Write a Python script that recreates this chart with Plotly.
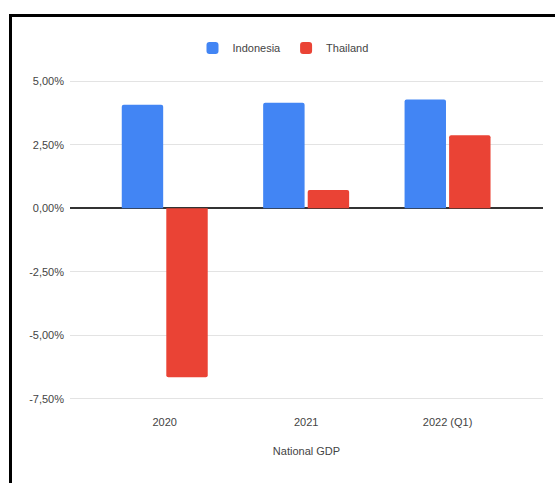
import plotly.graph_objects as go

categories = ["2020", "2021", "2022 (Q1)"]
indonesia = [4.08, 4.15, 4.28]
thailand = [-6.65, 0.72, 2.87]
series_names = ["Indonesia", "Thailand"]
colors = ["#4285F4", "#EA4335"]
y_ticks = [-7.5, -5.0, -2.5, 0.0, 2.5, 5.0]
y_ticktext = ["-7,50%", "-5,00%", "-2,50%", "0,00%", "2,50%", "5,00%"]

W, H = 555, 483
ML, MR, MT, MB = 70, 12, 80, 83
pw = W - ML - MR
ph = H - MT - MB

def px_x(p):
    return (p - ML) / pw

def px_y(p):
    return (H - MB - p) / ph

font = dict(family="Liberation Sans, Arial, sans-serif", size=11, color="#444444")

fig = go.Figure()
for name, vals, col in zip(series_names, [indonesia, thailand], colors):
    fig.add_trace(go.Bar(x=categories, y=vals, name=name,
                         marker=dict(color=col, line=dict(width=0), cornerradius=2)))

fig.update_layout(
    width=W, height=H,
    margin=dict(l=ML, r=MR, t=MT, b=MB),
    paper_bgcolor="white", plot_bgcolor="white",
    font=font,
    barmode="group", bargap=0.37, bargroupgap=0.07,
    showlegend=True,
    legend=dict(orientation="h", x=px_x(283), xanchor="center", y=px_y(48), yanchor="middle",
                font=font, itemwidth=30, traceorder="normal"),
    xaxis=dict(range=[-0.67, 2.675], showgrid=False, zeroline=False, showline=False,
               ticks="", tickfont=font, ticklabelstandoff=14,
               title=dict(text="National GDP", font=font, standoff=20)),
    yaxis=dict(range=[-7.55, 5.05], tickmode="array", tickvals=y_ticks, ticktext=y_ticktext,
               showgrid=True, gridcolor="#e3e3e3", gridwidth=1,
               zeroline=True, zerolinecolor="#333333", zerolinewidth=1.5,
               showline=False, ticks="", tickfont=font, ticklabelstandoff=5),
    shapes=[dict(type="rect", xref="paper", yref="paper",
                 x0=px_x(10.5), x1=px_x(W + 20), y0=px_y(H + 20), y1=px_y(15.5),
                 line=dict(color="black", width=3), fillcolor="rgba(0,0,0,0)", layer="above")],
)

fig.write_html("out.html")
